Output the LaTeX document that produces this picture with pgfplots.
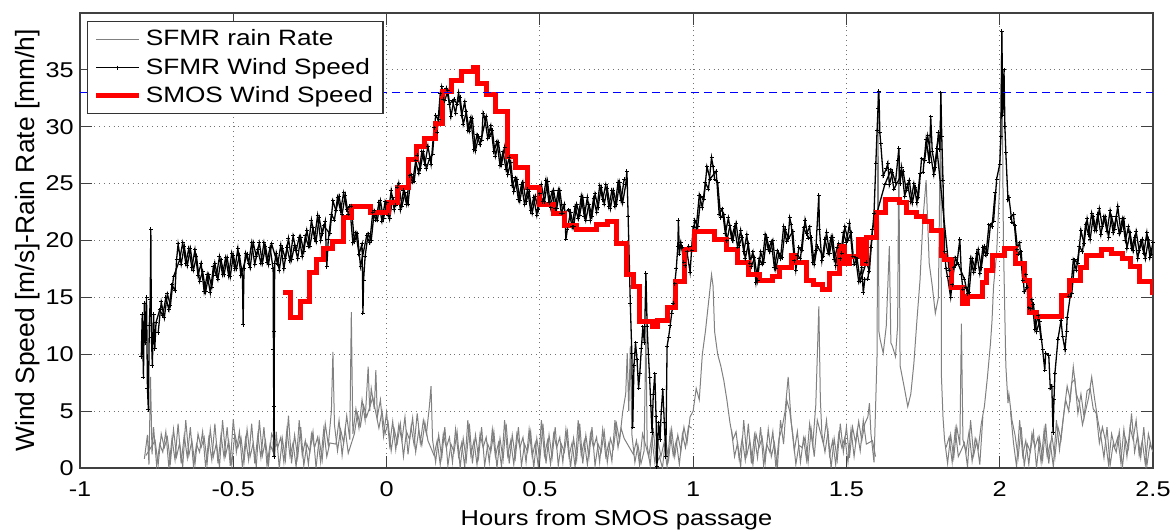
\documentclass[border=0pt]{standalone}
\usepackage{pgfplots}
\pgfplotsset{compat=1.18}
\usepackage{fontspec}
\setmainfont{Liberation Sans}[FakeStretch=1.18]
\newfontfamily\ylfont{Liberation Sans}
\begin{document}
\begin{tikzpicture}
\begin{axis}[
  scale only axis,
  width=536.5pt, height=227.5pt,
  xmin=-1, xmax=2.5, ymin=0, ymax=40,
  xtick={-1,-0.5,0,0.5,1,1.5,2,2.5},
  xticklabels={-1,-0.5,0,0.5,1,1.5,2,2.5},
  ytick={0,5,10,15,20,25,30,35},
  yticklabels={0,5,10,15,20,25,30,35},
  /pgf/number format/assume math mode=true,
  tick align=inside, tick pos=both,
  major tick length=6pt,
  tick style={black!75, line width=0.5pt},
  axis line style={black!75, line width=0.6pt},
  grid=major,
  major grid style={dotted, black!55, line width=0.45pt},
  tick label style={font=\fontsize{10.7}{12}\selectfont, inner sep=0pt},
  xticklabel style={anchor=base, yshift=-14.3pt},
  yticklabel style={anchor=east, xshift=-3pt},
  xlabel={Hours from SMOS passage},
  xlabel style={at={(rel axis cs:0.5,0)}, anchor=base, yshift=-28.5pt, font=\fontsize{10.8}{12}\selectfont},
  ylabel={\ylfont Wind Speed [m/s]-Rain Rate [mm/h]},
  ylabel style={at={(axis description cs:-0.0489,0.5)}, anchor=center, font=\fontsize{13.2}{15}\selectfont},
  legend style={at={(rel axis cs:0.0065,0.982)}, anchor=north west, draw=black!80, line width=0.6pt, fill=white,
    font=\fontsize{11.1}{13}\selectfont, inner xsep=3pt, inner ysep=2pt, row sep=0.6pt},
  legend cell align=left,
  legend image code/.code={\draw[mark repeat=2,mark phase=2,#1] plot coordinates {(0cm,0cm) (0.38cm,0cm) (0.76cm,0cm)};},
  rain/.style={color=black!50, line width=0.5pt},
  wind/.style={color=black, line width=0.65pt, mark=+, mark size=1pt, mark options={line width=0.5pt}},
]
% SFMR rain rate
\addplot[rain] coordinates {
(-0.79,0.8) (-0.78,2.9) (-0.775,0.3) (-0.77,8.0) (-0.765,1.2) (-0.76,3.6) (-0.75,0.2) (-0.74,2.1) (-0.73,1.4) (-0.72,3.2)
(-0.71,0.0) (-0.70,2.6) (-0.69,0.7) (-0.68,3.9) (-0.67,0.4) (-0.66,2.9) (-0.65,0.9) (-0.64,3.6) (-0.63,0.2) (-0.62,2.1)
(-0.61,1.4) (-0.60,3.2) (-0.59,0.0) (-0.58,2.6) (-0.57,0.7) (-0.56,3.9) (-0.55,0.4) (-0.54,2.9) (-0.53,0.9) (-0.52,3.6)
(-0.51,0.2) (-0.50,4.3) (-0.49,1.4) (-0.48,3.2) (-0.47,0.0) (-0.46,2.6) (-0.45,0.7) (-0.44,3.9) (-0.43,0.4) (-0.42,2.9)
(-0.41,0.9) (-0.40,3.6) (-0.39,0.2) (-0.38,2.1) (-0.37,1.4) (-0.368,6.5) (-0.365,1.0) (-0.36,3.2) (-0.35,0.0) (-0.34,2.6)
(-0.33,0.7) (-0.32,4.6) (-0.31,0.4) (-0.30,2.9) (-0.29,0.9) (-0.28,3.6) (-0.27,0.2) (-0.26,2.1) (-0.25,1.4) (-0.24,3.2)
(-0.23,0.0) (-0.22,2.6) (-0.21,0.7) (-0.20,3.9) (-0.19,2.0) (-0.18,5.0) (-0.175,10.2) (-0.17,3.8) (-0.16,1.5) (-0.15,3.4)
(-0.14,2.2) (-0.13,4.6) (-0.12,2.5) (-0.115,13.7) (-0.11,3.0) (-0.10,5.2) (-0.09,3.5) (-0.08,6.0) (-0.07,4.2) (-0.06,8.9)
(-0.055,5.0) (-0.05,7.0) (-0.04,5.2) (-0.035,8.6) (-0.03,4.5) (-0.02,6.0) (-0.01,2.8) (0.00,4.9) (0.01,2.0) (0.02,4.1)
(0.03,1.6) (0.04,3.8) (0.05,2.4) (0.06,4.5) (0.07,1.2) (0.08,3.6) (0.09,2.0) (0.10,4.8) (0.11,2.2) (0.12,4.2)
(0.13,3.0) (0.14,5.5) (0.145,7.2) (0.15,2.5) (0.16,0.5) (0.17,2.9) (0.18,0.9) (0.19,3.6) (0.20,0.2) (0.21,2.1)
(0.22,1.4) (0.23,3.2) (0.24,0.0) (0.25,2.6) (0.26,0.7) (0.27,3.9) (0.28,0.4) (0.29,2.9) (0.30,0.9) (0.31,3.6)
(0.32,0.2) (0.33,2.1) (0.34,1.4) (0.35,3.2) (0.36,0.0) (0.37,2.6) (0.38,0.7) (0.39,3.9) (0.40,0.4) (0.41,2.9)
(0.42,0.9) (0.43,3.6) (0.44,0.2) (0.45,2.1) (0.46,1.4) (0.47,3.2) (0.48,0.0) (0.49,2.6) (0.50,0.7) (0.51,3.9)
(0.52,0.4) (0.53,2.9) (0.54,0.9) (0.55,3.6) (0.56,0.2) (0.57,2.1) (0.58,1.4) (0.59,3.2) (0.60,0.0) (0.61,2.6)
(0.62,0.7) (0.63,3.9) (0.64,0.4) (0.65,2.9) (0.66,0.9) (0.67,3.6) (0.68,0.2) (0.69,2.1) (0.70,1.4) (0.71,3.2)
(0.72,0.5) (0.73,2.6) (0.74,1.7) (0.75,3.9) (0.76,2.4) (0.77,4.9) (0.78,6.5) (0.785,10.1) (0.79,5.0) (0.795,10.7)
(0.80,3.0) (0.81,0.5) (0.82,2.0) (0.83,0.4) (0.84,1.5) (0.846,12.4) (0.85,2.0) (0.86,0.2) (0.87,3.5) (0.88,0.3)
(0.89,1.0) (0.90,0.0) (0.91,2.6) (0.92,0.7) (0.93,3.4) (0.94,1.0) (0.95,2.9) (0.96,1.5) (0.97,3.6) (0.98,2.2)
(0.99,4.5) (1.00,5.0) (1.01,7.0) (1.02,6.0) (1.03,10.0) (1.04,12.0) (1.05,14.5) (1.06,17.0) (1.065,16.0) (1.07,12.0)
(1.08,10.0) (1.09,9.0) (1.10,7.7) (1.11,6.0) (1.12,4.0) (1.13,2.5) (1.14,3.2) (1.15,0.8) (1.16,2.6) (1.17,0.7)
(1.18,3.9) (1.19,0.4) (1.20,2.9) (1.21,0.9) (1.22,3.6) (1.23,0.2) (1.24,2.1) (1.25,1.4) (1.26,3.2) (1.27,0.0)
(1.28,2.6) (1.29,3.5) (1.30,5.0) (1.31,8.0) (1.32,4.0) (1.33,1.5) (1.34,3.2) (1.35,0.5) (1.36,2.6) (1.37,0.7)
(1.38,3.9) (1.39,2.0) (1.40,5.5) (1.41,14.2) (1.415,6.0) (1.42,3.0) (1.43,1.4) (1.44,3.2) (1.45,0.0) (1.46,2.6)
(1.47,0.7) (1.48,3.9) (1.49,1.4) (1.50,3.6) (1.51,0.9) (1.52,3.6) (1.53,2.2) (1.54,4.1) (1.55,2.4) (1.56,3.9)
(1.57,4.5) (1.575,5.7) (1.58,3.0) (1.59,0.5) (1.60,10.0) (1.603,33.0) (1.606,12.0) (1.61,11.3) (1.62,10.1) (1.63,12.5)
(1.64,19.5) (1.645,11.0) (1.65,10.7) (1.66,9.8) (1.667,12.5) (1.671,28.0) (1.675,9.0) (1.68,8.3) (1.69,6.9) (1.70,5.4)
(1.71,6.5) (1.72,9.2) (1.73,13.0) (1.74,16.5) (1.75,22.0) (1.76,25.3) (1.77,18.0) (1.78,16.0) (1.79,13.6) (1.80,15.0)
(1.808,33.0) (1.81,8.0) (1.815,4.5) (1.82,2.5) (1.83,0.4) (1.84,2.9) (1.85,0.9) (1.86,3.6) (1.87,2.0) (1.875,12.7)
(1.88,2.5) (1.89,1.4) (1.90,3.2) (1.91,0.6) (1.92,2.6) (1.93,1.7) (1.94,3.9) (1.95,5.4) (1.96,8.0) (1.97,11.0)
(1.975,13.0) (1.98,16.0) (1.99,18.9) (2.00,25.0) (2.007,38.0) (2.012,20.0) (2.02,9.0) (2.027,5.7) (2.03,6.5) (2.04,4.2)
(2.05,2.9) (2.06,0.9) (2.07,3.6) (2.08,0.2) (2.09,2.1) (2.10,1.4) (2.11,3.2) (2.12,0.0) (2.13,2.6) (2.14,0.7)
(2.15,3.9) (2.16,0.4) (2.17,2.9) (2.18,0.9) (2.19,3.6) (2.20,2.5) (2.21,5.0) (2.22,7.2) (2.23,6.0) (2.24,8.9)
(2.25,6.5) (2.26,5.7) (2.27,3.8) (2.28,5.0) (2.29,6.2) (2.30,8.0) (2.31,6.0) (2.32,4.2) (2.33,2.8) (2.34,0.9)
(2.35,3.6) (2.36,0.2) (2.37,2.1) (2.38,1.4) (2.39,3.2) (2.40,0.0) (2.41,2.6) (2.42,1.7) (2.43,4.8) (2.44,1.4)
(2.45,2.9) (2.46,0.9) (2.47,3.6) (2.48,0.2) (2.49,2.1) (2.50,1.4)
};
\addlegendentry{SFMR rain Rate}
% additional rain samples (between the above)
\addplot[rain, forget plot] coordinates {
(-0.785,1.1) (-0.755,2.4) (-0.745,0.3) (-0.735,3.0) (-0.725,1.8) (-0.715,2.7) (-0.705,0.5) (-0.695,3.4) (-0.685,1.0) (-0.675,2.2)
(-0.665,0.1) (-0.655,4.2) (-0.645,1.1) (-0.635,2.4) (-0.625,0.3) (-0.615,3.0) (-0.605,1.8) (-0.595,2.7) (-0.585,0.5) (-0.575,3.4)
(-0.565,1.0) (-0.555,2.2) (-0.545,0.1) (-0.535,4.2) (-0.525,1.1) (-0.515,2.4) (-0.505,0.3) (-0.495,3.0) (-0.485,1.8) (-0.475,2.7)
(-0.465,0.5) (-0.455,3.4) (-0.445,1.0) (-0.435,2.2) (-0.425,0.1) (-0.415,4.2) (-0.405,1.1) (-0.395,2.4) (-0.385,0.3) (-0.375,3.0)
(-0.355,1.8) (-0.345,2.7) (-0.335,0.5) (-0.325,3.4) (-0.315,1.0) (-0.305,2.2) (-0.295,0.1) (-0.285,4.2) (-0.275,1.1) (-0.265,2.4)
(-0.255,0.3) (-0.245,3.0) (-0.235,1.8) (-0.225,2.7) (-0.215,0.5) (-0.205,3.4) (-0.195,1.0) (-0.185,2.2) (-0.165,2.1) (-0.155,4.2)
(-0.145,1.1) (-0.135,3.4) (-0.125,1.3) (-0.105,3.0) (-0.095,4.8) (-0.085,3.7) (-0.075,5.5) (-0.065,4.5) (-0.045,6.2) (-0.025,3.5)
(-0.015,5.0) (-0.005,3.0) (0.005,4.0) (0.015,1.5) (0.025,3.4) (0.035,2.2) (0.045,3.9) (0.055,1.0) (0.065,3.2) (0.075,2.5)
(0.085,4.4) (0.095,1.4) (0.105,3.3) (0.115,2.0) (0.125,4.0) (0.135,2.4) (0.155,1.1) (0.165,2.4) (0.175,0.3) (0.185,3.0)
(0.195,1.8) (0.205,2.7) (0.215,0.5) (0.225,3.4) (0.235,1.0) (0.245,2.2) (0.255,0.1) (0.265,4.2) (0.275,1.1) (0.285,2.4)
(0.295,0.3) (0.305,3.0) (0.315,1.8) (0.325,2.7) (0.335,0.5) (0.345,3.4) (0.355,1.0) (0.365,2.2) (0.375,0.1) (0.385,4.2)
(0.395,1.1) (0.405,2.4) (0.415,0.3) (0.425,3.0) (0.435,1.8) (0.445,2.7) (0.455,0.5) (0.465,3.4) (0.475,1.0) (0.485,2.2)
(0.495,0.1) (0.505,4.2) (0.515,1.1) (0.525,2.4) (0.535,0.3) (0.545,3.0) (0.555,1.8) (0.565,2.7) (0.575,0.5) (0.585,3.4)
(0.595,1.0) (0.605,2.2) (0.615,0.1) (0.625,4.2) (0.635,1.1) (0.645,2.4) (0.655,0.3) (0.665,3.0) (0.675,1.8) (0.685,2.7)
(0.695,0.5) (0.705,3.4) (0.715,1.0) (0.725,2.2) (0.735,0.6) (0.745,4.2) (0.755,1.8) (0.765,3.5) (0.775,2.6)
(0.805,1.2) (0.815,2.4) (0.825,0.3) (0.835,3.0) (0.855,1.0) (0.865,2.7) (0.875,0.5) (0.885,2.4) (0.895,1.0) (0.905,2.2)
(0.915,0.1) (0.925,3.2) (0.935,1.1) (0.945,2.4) (0.955,0.3) (0.965,3.0) (0.975,1.8) (0.985,3.7) (0.995,3.5)
};
\addplot[rain, forget plot] coordinates {
(1.125,3.4) (1.135,1.0) (1.145,2.2) (1.155,0.1) (1.165,4.2) (1.175,1.1) (1.185,2.4) (1.195,0.3) (1.205,3.0) (1.215,1.8)
(1.225,2.7) (1.235,0.5) (1.245,3.4) (1.255,1.0) (1.265,2.2) (1.275,0.1) (1.285,4.2) (1.295,2.1) (1.305,6.0) (1.315,5.0)
(1.325,3.0) (1.335,0.3) (1.345,2.0) (1.355,1.8) (1.365,2.7) (1.375,0.5) (1.385,3.4) (1.395,1.0) (1.405,4.2) (1.425,2.1)
(1.435,4.2) (1.445,1.1) (1.455,2.4) (1.465,0.3) (1.475,3.0) (1.485,1.8) (1.495,2.7) (1.505,0.5) (1.515,3.4) (1.525,1.0)
(1.535,3.2) (1.545,1.5) (1.555,4.2) (1.565,2.1) (1.585,2.4) (1.595,1.0)
};
\addplot[rain, forget plot] coordinates {
(1.825,1.8) (1.835,2.7) (1.845,0.5) (1.855,3.4) (1.865,1.0) (1.885,2.2) (1.895,0.1) (1.905,4.2) (1.915,1.1) (1.925,2.4)
(1.935,0.3) (1.945,4.5)
};
\addplot[rain, forget plot] coordinates {
(2.035,5.0) (2.045,2.2) (2.055,0.1) (2.065,4.2) (2.075,1.1) (2.085,2.4) (2.095,0.3) (2.105,3.0) (2.115,1.8) (2.125,2.7)
(2.135,0.5) (2.145,3.4) (2.155,1.0) (2.165,2.2) (2.175,0.1) (2.185,4.2) (2.195,1.6) (2.205,3.9) (2.215,6.0) (2.225,5.0)
(2.235,7.5) (2.245,7.8) (2.255,4.8) (2.265,6.5) (2.275,4.5) (2.285,6.8) (2.295,7.0) (2.305,5.2) (2.315,4.8) (2.325,2.2)
(2.335,3.6) (2.345,2.4) (2.355,0.3) (2.365,3.0) (2.375,1.8) (2.385,2.7) (2.395,0.5) (2.405,3.4) (2.415,1.0) (2.425,3.6)
(2.435,2.5) (2.445,4.2) (2.455,1.1) (2.465,2.4) (2.475,0.3) (2.485,3.0) (2.495,1.8)
};
% SFMR wind speed
\addplot[wind] coordinates {
(-0.800,9.8) (-0.797,13.5) (-0.793,8.0) (-0.790,14.5) (-0.787,11.0) (-0.783,15.0) (-0.780,7.0) (-0.777,5.1) (-0.774,12.5) (-0.771,14.8)
(-0.769,21.0) (-0.767,11.5) (-0.764,9.0) (-0.760,13.5) (-0.756,10.5) (-0.752,12.8)
(-0.74,13.9) (-0.73,13.4) (-0.72,15.0) (-0.71,13.9) (-0.70,16.1) (-0.69,15.6) (-0.685,18.3) (-0.68,19.7) (-0.67,17.9) (-0.66,19.5)
(-0.65,17.8) (-0.64,19.3) (-0.63,17.4) (-0.62,18.6) (-0.61,16.4) (-0.60,17.3) (-0.59,15.5) (-0.58,17.0) (-0.57,15.9) (-0.56,18.0)
(-0.55,16.6) (-0.54,18.3) (-0.53,17.0) (-0.52,18.5) (-0.51,16.8) (-0.50,18.7) (-0.49,17.5) (-0.48,18.7) (-0.47,16.9) (-0.468,12.6)
(-0.465,17.5) (-0.46,18.9) (-0.45,18.0) (-0.44,19.8) (-0.43,17.9) (-0.42,19.2) (-0.41,18.0) (-0.40,19.8) (-0.39,18.1) (-0.38,19.4)
(-0.37,17.5) (-0.369,10.4) (-0.368,5.4) (-0.367,1.0) (-0.366,12.0) (-0.365,18.0) (-0.36,18.9) (-0.35,17.4) (-0.34,19.3) (-0.33,18.4)
(-0.32,20.2) (-0.31,18.3) (-0.30,19.6) (-0.29,18.4) (-0.28,20.3) (-0.27,19.0) (-0.26,20.9) (-0.25,19.5) (-0.24,21.1) (-0.23,19.9)
(-0.22,22.0) (-0.21,20.6) (-0.20,21.7) (-0.195,17.7) (-0.19,20.1) (-0.18,22.3) (-0.17,21.8) (-0.16,23.8) (-0.15,22.6) (-0.14,24.2)
(-0.13,22.7) (-0.12,23.0) (-0.11,19.8) (-0.10,20.7) (-0.09,18.8) (-0.08,19.7) (-0.077,13.6) (-0.075,16.5) (-0.07,18.6) (-0.06,20.6)
(-0.05,20.0) (-0.04,22.6) (-0.03,21.8) (-0.02,23.5) (-0.01,21.9) (0.00,23.3) (0.01,21.9) (0.02,23.8) (0.03,23.1) (0.04,25.0)
(0.05,23.0) (0.06,24.2) (0.07,23.2) (0.08,25.8) (0.09,25.2) (0.10,27.5) (0.11,26.3) (0.12,27.8) (0.13,26.3) (0.14,27.2)
(0.15,27.6) (0.16,31.0) (0.17,30.6) (0.18,33.5) (0.19,32.3) (0.20,33.2) (0.21,30.9) (0.22,32.4) (0.23,32.0) (0.24,32.6)
(0.25,30.2) (0.26,31.3) (0.27,29.6) (0.28,30.7) (0.29,27.9) (0.30,29.1) (0.31,28.8) (0.315,31.2) (0.32,30.8) (0.33,29.0)
(0.34,30.1) (0.35,27.8) (0.36,28.7) (0.37,26.6) (0.38,27.8) (0.39,26.2) (0.40,27.3) (0.41,24.8) (0.42,25.5) (0.43,23.6)
(0.44,24.9) (0.45,23.2) (0.46,24.5) (0.47,22.6) (0.48,23.8) (0.49,22.2) (0.50,24.1) (0.51,23.4) (0.52,25.3) (0.53,23.3)
(0.54,24.3) (0.55,22.8) (0.56,24.4) (0.57,22.4) (0.58,23.2) (0.585,20.1) (0.59,21.0) (0.60,22.5) (0.61,21.2) (0.62,23.2)
(0.63,22.2) (0.64,23.8) (0.65,21.8) (0.66,23.2) (0.67,22.1) (0.68,24.1) (0.69,22.9) (0.70,24.7) (0.71,23.2) (0.72,24.6)
(0.73,22.8) (0.74,24.4) (0.75,23.2) (0.76,25.1) (0.77,23.3) (0.78,24.9) (0.784,26.1) (0.788,22.1) (0.795,14.5) (0.800,10.1)
(0.803,3.6) (0.807,9.0) (0.812,11.0) (0.817,9.5) (0.822,7.0) (0.826,8.3) (0.831,10.5) (0.836,12.4) (0.841,11.0) (0.846,17.1)
(0.850,12.4) (0.854,10.0) (0.858,8.0) (0.862,5.5) (0.866,3.1) (0.870,6.5) (0.875,8.3) (0.879,4.5) (0.882,0.1) (0.887,4.0)
(0.892,2.5) (0.896,5.0) (0.901,6.9) (0.906,4.0) (0.911,1.0) (0.915,10.7) (0.920,11.5) (0.925,12.5) (0.930,13.6) (0.935,14.5)
(0.940,16.2) (0.945,17.5) (0.950,19.5) (0.952,21.8) (0.955,18.8) (0.96,19.8) (0.97,18.1) (0.98,19.0) (0.99,17.2) (1.00,21.2)
(1.01,21.1) (1.02,24.0) (1.03,22.9) (1.04,25.1) (1.05,24.5) (1.06,27.3) (1.065,26.5) (1.07,25.4) (1.08,25.1) (1.09,22.0)
(1.10,22.3) (1.11,20.0) (1.12,21.3) (1.13,20.0) (1.14,21.5) (1.15,19.6) (1.16,20.3) (1.17,18.4) (1.18,19.7) (1.19,17.7)
(1.20,18.5) (1.21,16.5) (1.22,19.0) (1.23,18.1) (1.24,20.3) (1.25,19.0) (1.26,20.0) (1.27,17.5) (1.28,18.9) (1.29,18.5)
(1.30,21.0) (1.31,20.2) (1.315,22.0) (1.32,21.4) (1.33,18.2) (1.34,18.7) (1.35,18.4) (1.36,21.1) (1.37,20.6) (1.38,21.2)
(1.39,18.1) (1.40,19.1) (1.41,24.0) (1.412,21.0) (1.42,18.2) (1.43,20.1) (1.44,18.9) (1.45,20.3) (1.46,18.3) (1.47,19.4)
(1.48,18.4) (1.49,20.7) (1.50,19.8) (1.51,21.5) (1.52,18.6) (1.53,18.5) (1.54,16.4) (1.55,17.6) (1.555,15.4) (1.56,16.6)
(1.57,16.6) (1.58,19.4) (1.59,22.4) (1.596,26.8) (1.600,29.7) (1.603,31.6) (1.606,33.1) (1.609,29.5) (1.612,28.5) (1.62,25.7)
(1.63,26.3) (1.635,26.8) (1.64,24.9) (1.65,26.0) (1.66,25.1) (1.667,27.0) (1.671,28.1) (1.675,25.0) (1.68,26.4) (1.69,23.9)
(1.70,24.9) (1.71,23.4) (1.72,25.0) (1.73,23.3) (1.74,25.9) (1.75,26.0) (1.76,28.9) (1.77,26.9) (1.775,30.9) (1.78,27.8)
(1.79,26.4) (1.80,29.5) (1.805,28.0) (1.808,33.0) (1.811,29.1) (1.815,25.3) (1.82,19.0) (1.825,17.5) (1.83,16.8) (1.84,15.0)
(1.85,17.6) (1.86,17.9) (1.87,20.1) (1.875,17.0) (1.88,15.7) (1.89,15.9) (1.90,15.4) (1.91,18.4) (1.92,17.5) (1.93,19.2)
(1.94,17.6) (1.95,19.5) (1.96,18.9) (1.97,21.4) (1.98,21.7) (1.99,25.4) (2.000,26.7) (2.004,29.1) (2.007,38.4) (2.010,31.0)
(2.014,35.0) (2.017,30.0) (2.020,27.7) (2.027,23.6) (2.03,23.8) (2.04,21.6) (2.05,21.3) (2.06,18.8) (2.07,19.0) (2.08,15.5)
(2.09,15.9) (2.10,14.0) (2.11,14.4) (2.12,12.0) (2.13,12.9) (2.14,10.4) (2.147,8.6) (2.150,10.1) (2.16,9.9) (2.165,7.0)
(2.170,7.2) (2.174,3.1) (2.177,6.0) (2.18,8.3) (2.19,11.3) (2.20,13.0) (2.205,11.6) (2.213,10.4) (2.218,12.0) (2.22,13.2)
(2.23,15.1) (2.24,18.3) (2.25,17.4) (2.26,19.5) (2.27,19.0) (2.28,21.4) (2.29,20.5) (2.30,22.4) (2.31,20.9) (2.32,22.3)
(2.33,20.5) (2.34,22.1) (2.35,20.8) (2.36,22.6) (2.37,20.7) (2.38,22.1) (2.39,20.6) (2.40,21.9) (2.41,20.0) (2.42,21.2)
(2.43,19.3) (2.44,20.3) (2.45,18.4) (2.46,19.9) (2.47,18.9) (2.48,20.7) (2.49,18.5) (2.50,19.8)
};
\addlegendentry{SFMR Wind Speed}
% additional wind samples (between the above)
\addplot[wind, forget plot] coordinates {
(-0.745,11.9) (-0.735,14.6) (-0.725,13.2) (-0.715,15.3) (-0.705,14.3) (-0.695,16.8) (-0.675,18.3) (-0.665,19.8) (-0.655,18.0) (-0.645,19.3)
(-0.635,17.6) (-0.625,19.2) (-0.615,16.9) (-0.605,18.0) (-0.595,15.5) (-0.585,17.0) (-0.575,15.4) (-0.565,17.7) (-0.555,16.9) (-0.545,18.6)
(-0.535,17.0) (-0.525,18.5) (-0.515,16.9) (-0.505,18.9) (-0.495,17.5) (-0.485,19.3) (-0.475,16.9) (-0.455,18.8) (-0.445,17.6) (-0.435,19.8)
(-0.425,18.6) (-0.415,19.8) (-0.405,18.0) (-0.395,19.5) (-0.385,17.9) (-0.375,19.7) (-0.355,17.9) (-0.345,19.6) (-0.335,17.5) (-0.325,19.4)
(-0.315,18.2) (-0.305,20.4) (-0.295,19.1) (-0.285,20.3) (-0.275,18.6) (-0.265,20.4) (-0.255,19.5) (-0.245,21.8) (-0.235,20.2) (-0.225,22.2)
(-0.215,20.0) (-0.205,21.3) (-0.185,20.6) (-0.175,23.5) (-0.165,22.6) (-0.155,23.9) (-0.145,22.3) (-0.135,24.0) (-0.125,22.3) (-0.115,23.0)
(-0.105,19.9) (-0.095,20.6) (-0.085,17.7) (-0.065,20.4) (-0.055,19.8) (-0.045,22.5) (-0.035,21.8) (-0.025,23.3) (-0.015,21.7) (-0.005,23.4)
(0.005,22.2) (0.015,24.4) (0.025,22.7) (0.035,24.7) (0.045,22.7) (0.055,24.4) (0.065,23.2) (0.075,25.7) (0.085,25.1) (0.095,27.0)
(0.105,25.9) (0.115,27.8) (0.125,26.7) (0.135,28.3) (0.145,26.7) (0.155,29.9) (0.165,29.5) (0.175,32.9) (0.185,32.4) (0.195,33.4)
(0.205,32.0) (0.215,32.3) (0.225,31.2) (0.235,33.0) (0.245,31.0) (0.255,32.2) (0.265,29.7) (0.275,30.8) (0.285,28.0) (0.295,29.3)
(0.305,28.4) (0.325,30.9) (0.335,29.1) (0.345,29.7) (0.355,27.4) (0.365,28.6) (0.375,26.7) (0.385,28.2) (0.395,25.8) (0.405,26.9)
(0.415,24.3) (0.425,25.4) (0.435,23.5) (0.445,25.1) (0.455,23.4) (0.465,24.3) (0.475,22.4) (0.485,23.9) (0.495,22.7) (0.505,24.9)
(0.515,23.4) (0.525,25.2) (0.535,22.9) (0.545,24.4) (0.555,22.8) (0.565,24.4) (0.575,22.4) (0.595,22.7) (0.605,21.2) (0.615,23.0)
(0.625,21.9) (0.635,23.9) (0.645,22.1) (0.655,23.8) (0.665,21.8) (0.675,23.7) (0.685,22.5) (0.695,24.8) (0.705,23.6) (0.715,24.9)
(0.725,23.0) (0.735,24.4) (0.745,23.0) (0.755,25.1) (0.765,23.5) (0.775,25.4)
};
\addplot[wind, forget plot] coordinates {
(0.965,19.4) (0.975,17.8) (0.985,19.5) (0.995,19.1) (1.005,21.8) (1.015,21.2) (1.025,23.9) (1.035,23.6) (1.045,26.5) (1.055,25.4)
(1.075,26.1) (1.085,22.3) (1.095,22.8) (1.105,20.6) (1.115,22.0) (1.125,20.2) (1.135,21.2) (1.145,19.4) (1.155,20.9) (1.165,19.0)
(1.175,20.5) (1.185,18.0) (1.195,19.0) (1.205,16.3) (1.215,18.4) (1.225,17.9) (1.235,20.5) (1.245,19.2) (1.255,19.9) (1.265,17.6)
(1.275,19.1) (1.285,18.4) (1.295,21.2) (1.305,19.9) (1.325,20.8) (1.335,17.4) (1.345,19.4) (1.355,19.1) (1.365,21.8) (1.375,20.2)
(1.385,20.3) (1.395,17.9) (1.405,19.5) (1.425,18.6) (1.435,20.7) (1.445,18.9) (1.455,20.3) (1.465,17.8) (1.475,19.7) (1.485,18.9)
(1.495,21.2) (1.505,20.0) (1.515,20.7) (1.525,17.9) (1.535,18.4) (1.545,16.4) (1.565,18.1) (1.575,17.3) (1.585,21.0)
(1.625,24.9) (1.645,26.2) (1.655,24.5) (1.685,26.1) (1.695,24.4) (1.705,25.3) (1.715,23.3) (1.725,24.7) (1.735,23.8) (1.745,27.2)
(1.755,27.0) (1.765,29.2) (1.785,25.8) (1.795,28.1) (1.835,17.4) (1.845,16.1) (1.855,18.5) (1.865,17.9) (1.885,16.6) (1.895,15.3)
(1.905,18.4) (1.915,17.2) (1.925,18.9) (1.935,17.1) (1.945,19.4) (1.955,18.7) (1.965,21.4) (1.975,21.2) (1.985,24.2)
};
\addplot[wind, forget plot] coordinates {
(2.035,22.0) (2.045,22.3) (2.055,19.2) (2.065,19.8) (2.075,16.5) (2.085,17.0) (2.095,14.1) (2.105,14.8) (2.115,12.2) (2.125,13.4)
(2.135,11.3)
};
\addplot[wind, forget plot] coordinates {
(2.225,15.1) (2.235,15.3) (2.245,18.3) (2.255,18.0) (2.265,20.9) (2.275,19.7) (2.285,21.9) (2.295,20.1) (2.305,22.1) (2.315,20.9)
(2.325,22.8) (2.335,21.2) (2.345,22.1) (2.355,20.3) (2.365,22.1) (2.375,21.0) (2.385,23.0) (2.395,20.8) (2.405,21.9) (2.415,19.3)
(2.425,20.7) (2.435,19.1) (2.445,20.8) (2.455,19.1) (2.465,20.1) (2.475,18.4) (2.485,20.1) (2.495,18.8)
};
% SMOS wind speed (stairs)
\addplot[color=red, line width=2.5pt, const plot] coordinates {
(-0.338,15.4) (-0.312,13.2) (-0.282,14.6) (-0.253,17.2) (-0.227,18.3) (-0.207,19.3) (-0.175,19.9) (-0.142,22.0) (-0.113,23.0) (-0.054,22.5)
(0.005,23.3) (0.037,24.7) (0.070,27.1) (0.099,28.3) (0.125,29.0) (0.158,30.3) (0.184,33.1) (0.213,34.1) (0.246,34.9) (0.282,35.2)
(0.298,33.8) (0.327,32.8) (0.354,31.3) (0.393,27.4) (0.419,26.4) (0.461,24.7) (0.500,23.2) (0.543,22.4) (0.582,21.3) (0.621,21.0)
(0.686,21.4) (0.722,21.7) (0.751,19.7) (0.784,17.0) (0.804,16.0) (0.826,12.9) (0.869,12.4) (0.885,13.0) (0.915,14.1) (0.941,16.4)
(0.973,19.2) (1.006,20.8) (1.071,20.1) (1.110,19.2) (1.146,18.1) (1.179,17.0) (1.218,16.5) (1.260,16.8) (1.283,17.6) (1.322,18.7)
(1.332,18.1) (1.371,16.5) (1.391,16.1) (1.423,15.7) (1.446,17.1) (1.479,19.5) (1.495,18.0) (1.511,18.6) (1.538,20.1) (1.551,18.0)
(1.567,20.3) (1.599,22.5) (1.626,23.6) (1.674,23.3) (1.697,22.5) (1.730,22.1) (1.756,21.7) (1.779,20.9) (1.811,18.7) (1.821,18.3)
(1.844,15.9) (1.877,14.5) (1.896,15.1) (1.945,16.3) (1.958,17.4) (1.978,18.7) (2.017,19.3) (2.050,18.0) (2.082,16.5) (2.098,13.7)
(2.121,13.3) (2.203,15.2) (2.229,16.5) (2.262,17.6) (2.284,18.7) (2.333,19.2) (2.366,18.9) (2.399,18.4) (2.425,17.7) (2.457,16.4)
(2.497,15.4) (2.500,15.4)
};
\addlegendentry{SMOS Wind Speed}
\addplot[color=blue, line width=0.6pt, dash pattern=on 4pt off 2.5pt, forget plot] coordinates {(-1,33) (2.5,33)};
\end{axis}
\pgfresetboundingbox
\path (-40pt,-31.5pt) rectangle (547.5pt,234pt);
\end{tikzpicture}
\end{document}
